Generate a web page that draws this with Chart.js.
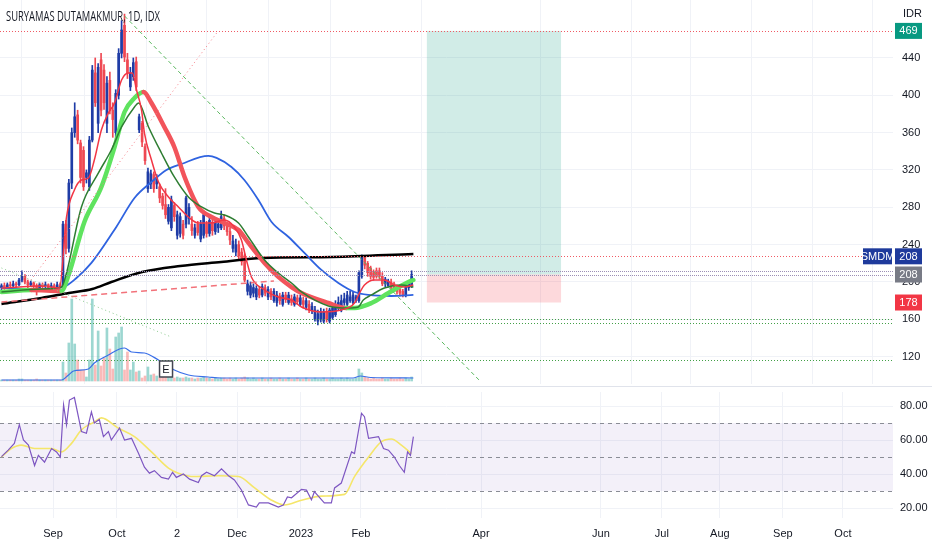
<!DOCTYPE html>
<html><head><meta charset="utf-8">
<script src="https://cdn.jsdelivr.net/npm/chart.js@4.4.1/dist/chart.umd.min.js"></script>
<style>
html,body{margin:0;padding:0;background:#fff;width:932px;height:550px;overflow:hidden;}
#wrap{position:relative;width:932px;height:550px;}
#main{position:absolute;left:0;top:0;}
#rsi{position:absolute;left:0;top:387px;}
#sep{position:absolute;left:0;top:386px;width:932px;height:1px;background:#e0e3eb;}
#title{position:absolute;left:6px;top:6px;font:14px "Open Sans",sans-serif;color:#131722;transform-origin:left top;white-space:nowrap;}
</style></head>
<body><div id="wrap">
<canvas id="main" width="932" height="386"></canvas>
<div id="sep"></div>
<canvas id="rsi" width="932" height="163"></canvas>
<div id="title">SURYAMAS DUTAMAKMUR, 1D, IDX</div>
</div>
<script>
// ---------- DATA ----------
const opens  = [194,196,195,197,196,198,197,202,206,200,197,199,196,194,197,195,197,194,196,195,197,
 195,262,236,306,360,379,349,341,312,302,352,424,370,438,427,370,416,384,360,400,445,475,438,409,420,436,
 363,370,345,300,305,315,305,302,292,283,265,258,282,250,252,262,262,268,262,250,262,246,250,262,252,264,254,258,258,268,260,254,
 236,232,240,232,228,190,186,188,184,192,186,194,184,190,180,178,185,176,186,178,182,176,183,176,180,173,176,170,
 160,158,160,158,168,158,162,165,172,170,178,176,180,178,180,180,206,226,220,215,210,212,212,206,198,196,200,198,194,192,190,186,194,196];
const highs  = [198,199,199,200,201,200,204,212,208,202,201,200,198,199,199,200,198,199,198,200,199,
 265,266,310,365,392,384,352,345,320,356,432,440,434,445,433,420,425,392,406,450,480,487,445,430,440,441,
 380,372,348,322,320,318,315,305,295,300,283,292,285,276,274,266,292,284,270,262,265,266,275,265,270,268,268,266,276,272,264,258,
 250,246,244,236,230,202,200,198,196,195,198,197,195,193,193,190,188,189,189,189,186,187,186,186,184,183,180,178,
 174,170,172,171,172,172,176,180,184,186,188,190,190,189,186,212,229,228,222,217,213,215,215,210,205,203,203,200,197,194,192,198,200,212];
const lows   = [191,192,193,194,194,194,196,200,198,194,195,192,186,192,193,193,191,192,193,193,193,
 194,230,232,300,355,348,306,298,306,298,350,388,360,378,385,360,380,355,350,396,440,436,418,405,416,405,
 360,345,326,296,300,296,300,285,278,268,262,255,265,246,248,246,258,262,250,247,250,243,247,248,249,250,251,253,256,256,250,240,
 232,228,225,218,200,186,183,184,181,183,184,185,181,181,178,174,176,174,178,176,175,174,176,174,172,170,167,166,
 158,154,157,156,157,156,160,163,170,168,175,174,178,176,178,178,204,214,206,203,202,204,203,196,195,194,192,190,187,185,184,184,191,194];
const closes = [196,195,197,196,198,197,202,206,200,197,199,196,194,197,195,197,194,196,195,197,195,
 262,236,306,360,377,352,312,302,317,352,427,392,430,384,392,413,384,374,402,445,470,441,424,424,435,409,
 377,350,330,318,316,300,312,290,282,272,280,288,270,272,270,250,290,280,255,258,253,262,272,252,266,255,264,262,270,260,254,245,
 244,240,228,222,202,198,196,194,193,186,195,188,192,184,190,186,180,186,181,186,178,184,179,183,176,180,170,174,
 170,166,168,168,160,170,172,176,178,180,182,186,184,186,184,210,226,218,210,206,205,206,206,198,203,201,194,192,190,188,186,196,198,208];
const volumes = [1,1,1,1,1,1,2,2,1,1,1,1,2,1,1,1,1,1,1,1,1,
 19,8,38,82,37,21,11,11,4,21,82,16,50,15,23,53,32,12,44,48,54,11,29,11,19,9,
 10,3,5,14,6,7,5,3,4,5,6,4,3,4,3,3,4,3,3,2,3,3,4,3,3,2,3,2,3,3,2,3,
 2,3,2,3,4,3,2,3,2,2,3,2,2,3,2,2,3,2,2,3,2,2,3,2,2,3,2,2,
 3,2,2,3,2,2,3,2,2,3,2,3,2,2,3,12,8,4,3,2,3,2,2,3,2,2,3,2,2,3,2,3,2,4];

const xTickPos    = [17.6,39.4,59.9,80.4,102.2,122.7,163.7,204.6,225.4,245.2,266.7,287.2];
const xTickLabels = ['Sep','Oct','2','Dec','2023','Feb','Apr','Jun','Jul','Aug','Sep','Oct'];
const priceTicks  = [120,160,200,240,280,320,360,400,440];
const rsiTicks    = [20,40,60,80];

// moving averages (bar position, value)
const blackX = [0,13.7,23,31,37.5,48,61,75,89,113,140.6];
const blackY = [176.4,182.9,188.2,192.5,200,210.7,217.1,221.4,225.7,226.8,230];
const blueX = [0,10,21,25.6,30.7,39.2,45.4,51.2,56.3,61.4,70.6,73.4,78.5,82.9,87.7,92.2,98,103.4,109.2,115,120.5,125.3,133.1,140.6];
const blueY = [193.6,192.5,194.6,204.3,220.4,259,290,307.1,320,326.4,335,332.9,323.2,309.3,287.9,264.3,248.2,231.1,212.9,199,189.3,186.1,185,186.1];
const dgX = [0,13.7,20.5,22.2,27.3,33.1,37.5,41,45.4,46.8,50.2,54.6,59,63.8,68.3,72.7,76.1,80.9,84.3,89.8,94.5,99,102.4,111.6,118.4,121.8,123.5,126.3,130.7,136.5,140.6];
const dgY = [189.3,192.5,194.6,209.6,280.4,316.8,341.4,366.1,387.5,391.8,366.1,338.2,312.5,291.1,280.4,273.9,271.8,263.2,248.2,223.6,209.6,198.9,189.3,174.3,172.1,173.2,180.7,186.1,193.6,196.8,194.6];
const thX = [0,10.2,20.5,22.9,28.3,34.1,38.6,42,45.4,48.5,51.2,55.6,59,62.5,67.2,71.7,76.1,80.9,84.3,89.8,94.5,99,102.4,111.6,117.7,120.5,126.3,132.1,138.9,140.6];
const thY = [189.3,191.4,190.4,207.5,264.3,301.8,344.6,382.1,397.1,403.6,391.8,366.1,344.6,312.5,280.4,269.6,263.2,255.7,241.8,220.4,205.4,194.6,188.2,177.5,172.1,172.1,177.5,188.2,200,202.1];
const rtX = [0,13.7,19.8,22.2,24.9,27.3,29.7,31.7,34.1,36.5,38.6,41,43.3,44.7,46.1,47.8,48.8,51.2,53.6,57,60.4,63.8,67.2,71.7,76.1,79.5,81.9,83.6,85.3,89.8,94.5,99,102.4,109.2,116,120.5,122.2,123.9,127.3,130.7,134.1,137.5,140.6];
const rtY = [193.6,195.7,193.6,269.6,298.6,309.3,311.4,330.7,362.9,381.1,391.8,416.4,423.9,423.9,405.7,384.3,359.6,330.7,307.1,291.1,280.4,269.6,263.2,263.2,266.4,258.9,245,223.6,205.4,191.4,183.9,180.7,173.2,167.9,170,177.5,188.2,196.8,202.1,202.1,196.8,194.6,196.8];
const vmX = [0,20.5,22.9,24.6,29.7,31.7,36.5,40.3,42,44.4,48.8,53.6,59,63.8,70.6,75.1,120,122.5,126,140.6];
const vmY = [1,1,6,10,12,18,26,32,33,29,28,21,11,6,4,3,3,5,3.5,3];

// RSI and its moving average
const rsiX = [0,2.3,4.4,6.1,7.5,9.2,11.3,12.6,14.7,17.1,18.8,20.1,21.2,22.2,23.2,24.9,27.3,29,30.7,31.7,33.4,34.8,36.5,37.5,40.3,42,44.4,46.8,48.8,50.5,52.2,54.6,57,58.4,59.7,62.1,64.2,67.2,68.3,70,72.7,75.1,77.5,79.5,81.9,84.3,87,88,91.1,94.5,96.2,97.6,99,102.4,104.1,105.8,106.8,110.2,112.6,113.7,116,119.5,120.5,122.9,123.9,125.3,128.7,130.4,132.1,134.1,135.8,137.5,138.6,139.6,140.6];
const rsiY = [50.2,54,58,69,60,57,45,51,47,55,53,50,80.6,69,83.5,85,65,64,76.5,70,72,62,65,60,67,60,61,52,44,40.5,42,38,37,41,38,40,37,35,39,41,39,43,39,36.5,30.6,21.8,20.5,23,23,20.5,21.8,26.5,26,31,30.5,24.8,29.6,23,23,31.8,34.7,53,52,75.7,73.7,61,62,55,54,50,45,41,53,51,62];
const rsiMaX = [0,3.4,6.8,11.3,17.1,20.5,23.9,27.3,31.7,34.1,39.9,45.4,51.2,57,60.4,65.9,74.1,80.9,86.3,92.2,96.6,102.4,109.2,117.1,120.5,125.3,129.7,133.1,136.5,139.9];
const rsiMaY = [50,55,57,55,55,53,58,66,70.6,73,67,62,53,43.5,40.5,38.5,39,38.5,32,24.6,21.8,24.6,27,28,38.5,50,59,60.6,57,52];

// drawings (price levels / bar positions)
const targetLevel = 469, entryLevel = 208, stopLevel = 178;
const boxStartBar = 145.2, boxEndBar = 191;
const redLevels = [469, 227.5], redLevelEnds = [304.3, 294];
const grayLevels = [211.5, 208];
const greenLevels = [160.5, 156, 116.5];
const greenDashLine = [[42,485],[163,95]];
const pinkDotLine = [[10,202],[74,469]];
const redDashLine = [[0,178.6],[93,201]];
const greenDotLine = [[0,215],[58,141]];
const symbolTagLevel = 227.5, lastPrice = 208;
const eventBar = 56, eventVol = 12;

// ---------- CHARTS ----------
Chart.defaults.font.family = '"Liberation Sans", Arial, sans-serif';
Chart.defaults.font.size = 11;
Chart.defaults.color = '#131722';
const X_MIN = -0.5, X_MAX = 304.3;
const UP = '#1f3ca6', DOWN = '#ef4852';
const isUp = closes.map((c,i)=>c>=opens[i]);
const pts = (xs,ys)=>xs.map((x,i)=>({x:x,y:ys[i]}));
const GRID = '#f0f2f7';

function setXTicks(s){ s.ticks = xTickPos.map(v=>({value:v})); }
function noPad(s){ s.paddingTop=0; s.paddingBottom=0; s.paddingLeft=0; s.paddingRight=0; }

const mainPlugin = {
  id:'mainDraw',
  beforeDatasetsDraw(chart){
    const {ctx, scales:{x,y}} = chart;
    const x0 = x.getPixelForValue(boxStartBar), x1 = x.getPixelForValue(boxEndBar);
    const yt = y.getPixelForValue(targetLevel), ye = y.getPixelForValue(entryLevel), ys = y.getPixelForValue(stopLevel);
    ctx.save();
    ctx.fillStyle = 'rgba(8,153,129,0.19)'; ctx.fillRect(x0, yt, x1-x0, ye-yt);
    ctx.fillStyle = 'rgba(242,54,69,0.19)'; ctx.fillRect(x0, ye, x1-x0, ys-ye);
    ctx.restore();
  },
  afterDatasetsDraw(chart){
    const {ctx, chartArea:a, scales:{x,y,yv}} = chart;
    ctx.save();
    ctx.beginPath(); ctx.rect(a.left,a.top,a.right-a.left,a.bottom-a.top); ctx.clip();
    const hline = (lv, end, color, dash)=>{
      const yy = Math.round(y.getPixelForValue(lv))+0.5;
      ctx.strokeStyle=color; ctx.setLineDash(dash); ctx.lineWidth=1;
      ctx.beginPath(); ctx.moveTo(a.left,yy); ctx.lineTo(x.getPixelForValue(end),yy); ctx.stroke();
    };
    redLevels.forEach((lv,i)=>hline(lv, redLevelEnds[i], '#f05a64', [1,2]));
    grayLevels.forEach(lv=>hline(lv, X_MAX, '#9c8fb5', [1,1]));
    greenLevels.forEach(lv=>hline(lv, X_MAX, '#43a047', [1,2]));
    const seg = (ln, color, dash, w)=>{
      ctx.strokeStyle=color; ctx.setLineDash(dash); ctx.lineWidth=w;
      ctx.beginPath();
      ctx.moveTo(x.getPixelForValue(ln[0][0]), y.getPixelForValue(ln[0][1]));
      ctx.lineTo(x.getPixelForValue(ln[1][0]), y.getPixelForValue(ln[1][1]));
      ctx.stroke();
    };
    seg(greenDashLine, '#5cb860', [4,3], 1);
    seg(pinkDotLine, '#f47c84', [1,3], 1);
    seg(redDashLine, '#f2727a', [6,4], 1.5);
    seg(greenDotLine, '#8bc98e', [1,3], 1);
    // earnings marker
    const ex = x.getPixelForValue(eventBar), ey = yv.getPixelForValue(eventVol);
    ctx.setLineDash([]);
    ctx.fillStyle='#fff'; ctx.fillRect(ex-6, ey-8, 13, 16);
    ctx.strokeStyle='#434651'; ctx.lineWidth=1.5; ctx.strokeRect(ex-6, ey-8, 13, 16);
    ctx.fillStyle='#131722'; ctx.font='11px "Liberation Sans", Arial'; ctx.textAlign='center'; ctx.textBaseline='middle';
    ctx.fillText('E', ex+0.5, ey+0.5);
    ctx.restore();
  },
  afterDraw(chart){
    const {ctx, chartArea:a, scales:{y}} = chart;
    ctx.save();
    ctx.font='11px "Liberation Sans", Arial'; ctx.textBaseline='middle'; ctx.textAlign='center';
    const tag = (x0, lv, w, bg, txt)=>{
      const yc = y.getPixelForValue(lv);
      ctx.fillStyle=bg; ctx.fillRect(x0, yc-8, w, 16);
      ctx.fillStyle='#fff'; ctx.fillText(txt, x0+w/2, yc+0.5);
    };
    const ax = a.right + 2;
    tag(ax, targetLevel, 27, '#089981', String(targetLevel));
    tag(a.right-30, symbolTagLevel, 29, '#1e3a9c', 'SMDM');
    tag(ax, symbolTagLevel, 27, '#1e3a9c', String(lastPrice));
    tag(ax, entryLevel, 27, '#787b86', String(entryLevel));
    tag(ax, stopLevel, 27, '#f23645', String(stopLevel));
    ctx.fillStyle='#131722'; ctx.textAlign='left';
    ctx.fillText('IDR', a.right+10, 14);
    ctx.restore();
  }
};

new Chart(document.getElementById('main'), {
  type:'bar',
  data:{ datasets:[
    {type:'line', label:'red', data:pts(rtX,rtY), borderColor:'#f23645', borderWidth:1.5, pointRadius:0, cubicInterpolationMode:'monotone', order:1},
    {type:'line', label:'dgreen', data:pts(dgX,dgY), borderColor:'#2e7d32', borderWidth:1.5, pointRadius:0, cubicInterpolationMode:'monotone', order:2},
    {type:'line', label:'thick', data:pts(thX,thY), borderWidth:4.5, pointRadius:0, cubicInterpolationMode:'monotone', borderCapStyle:'round',
      borderColor:'#f2545b', segment:{borderColor:c=>c.p1.parsed.y>=c.p0.parsed.y?'#5fe35f':'#f2545b'}, order:3},
    {type:'line', label:'blue', data:pts(blueX,blueY), borderColor:'#2f63e0', borderWidth:1.8, pointRadius:0, cubicInterpolationMode:'monotone', order:4},
    {type:'line', label:'black', data:pts(blackX,blackY), borderColor:'#000', borderWidth:2.5, pointRadius:0, cubicInterpolationMode:'monotone', order:5},
    {type:'bar', label:'body', data:closes.map((c,i)=>({x:i,y:[opens[i],c]})), backgroundColor:isUp.map(u=>u?UP:DOWN),
      barThickness:2, grouped:false, minBarLength:1, order:6},
    {type:'bar', label:'wick', data:closes.map((c,i)=>({x:i,y:[lows[i],highs[i]]})), backgroundColor:isUp.map(u=>u?UP:DOWN),
      barThickness:1, grouped:false, order:7},
    {type:'line', label:'volma', data:pts(vmX,vmY), yAxisID:'yv', borderColor:'#3a6fe8', borderWidth:1.2, pointRadius:0, cubicInterpolationMode:'monotone', order:8},
    {type:'bar', label:'vol', data:volumes.map((v,i)=>({x:i,y:v})), yAxisID:'yv', backgroundColor:isUp.map(u=>u?'rgba(38,166,154,0.45)':'rgba(239,83,80,0.4)'),
      barThickness:2, grouped:false, order:9}
  ]},
  options:{
    responsive:false, animation:false, events:[],
    layout:{padding:{left:0,right:0,top:0,bottom:2}},
    plugins:{legend:{display:false}, tooltip:{enabled:false}},
    scales:{
      x:{type:'linear', min:X_MIN, max:X_MAX, offset:false, afterBuildTicks:setXTicks,
        ticks:{display:false}, grid:{color:GRID, drawTicks:false}, border:{display:false},
        afterFit:s=>{s.height=0; noPad(s);}},
      y:{type:'linear', position:'right', min:90.7, max:502.1,
        afterBuildTicks:s=>{s.ticks=priceTicks.map(v=>({value:v}));},
        ticks:{padding:9, color:'#131722', font:{size:11}},
        grid:{color:GRID, drawTicks:false}, border:{display:false},
        afterFit:s=>{s.width=39; noPad(s);}},
      yv:{type:'linear', display:false, min:-3, max:381}
    }
  },
  plugins:[mainPlugin]
});

const rsiPlugin = {
  id:'rsiDraw',
  beforeDatasetsDraw(chart){
    const {ctx, chartArea:a, scales:{y}} = chart;
    ctx.save();
    const y70=y.getPixelForValue(70), y30=y.getPixelForValue(30);
    ctx.fillStyle='rgba(126,87,194,0.09)'; ctx.fillRect(a.left,y70,a.right-a.left,y30-y70);
    ctx.strokeStyle='#8a8d96'; ctx.lineWidth=1; ctx.setLineDash([4,4]);
    [70,50,30].forEach(v=>{const yy=Math.round(y.getPixelForValue(v))+0.5; ctx.beginPath(); ctx.moveTo(a.left,yy); ctx.lineTo(a.right,yy); ctx.stroke();});
    ctx.restore();
  }
};

new Chart(document.getElementById('rsi'), {
  type:'line',
  data:{datasets:[
    {label:'RSI', data:pts(rsiX,rsiY), borderColor:'#7e57c2', borderWidth:1.2, pointRadius:0, tension:0},
    {label:'MA', data:pts(rsiMaX,rsiMaY), borderColor:'#f5e66a', borderWidth:1.6, pointRadius:0, cubicInterpolationMode:'monotone'}
  ]},
  options:{
    responsive:false, animation:false, events:[],
    layout:{padding:{left:0,right:0,top:5,bottom:0}},
    plugins:{legend:{display:false}, tooltip:{enabled:false}},
    scales:{
      x:{type:'linear', min:X_MIN, max:X_MAX, offset:false, afterBuildTicks:setXTicks,
        ticks:{autoSkip:false, maxRotation:0, padding:9, color:'#131722', font:{size:11}, callback:(v,i)=>xTickLabels[i]},
        grid:{color:GRID, drawTicks:false}, border:{display:false},
        afterFit:s=>{s.height=32; noPad(s);}},
      y:{type:'linear', position:'right', min:14.12, max:88.24,
        afterBuildTicks:s=>{s.ticks=rsiTicks.map(v=>({value:v}));},
        ticks:{padding:7, color:'#131722', font:{size:11}, callback:v=>Number(v).toFixed(2)},
        grid:{color:GRID, drawTicks:false}, border:{display:false},
        afterFit:s=>{s.width=39; noPad(s);}}
    }
  },
  plugins:[rsiPlugin]
});

const t = document.getElementById('title');
const w = t.getBoundingClientRect().width;
if (w > 0) t.style.transform = 'scaleX(' + (154 / w) + ')';
</script>
</body></html>
